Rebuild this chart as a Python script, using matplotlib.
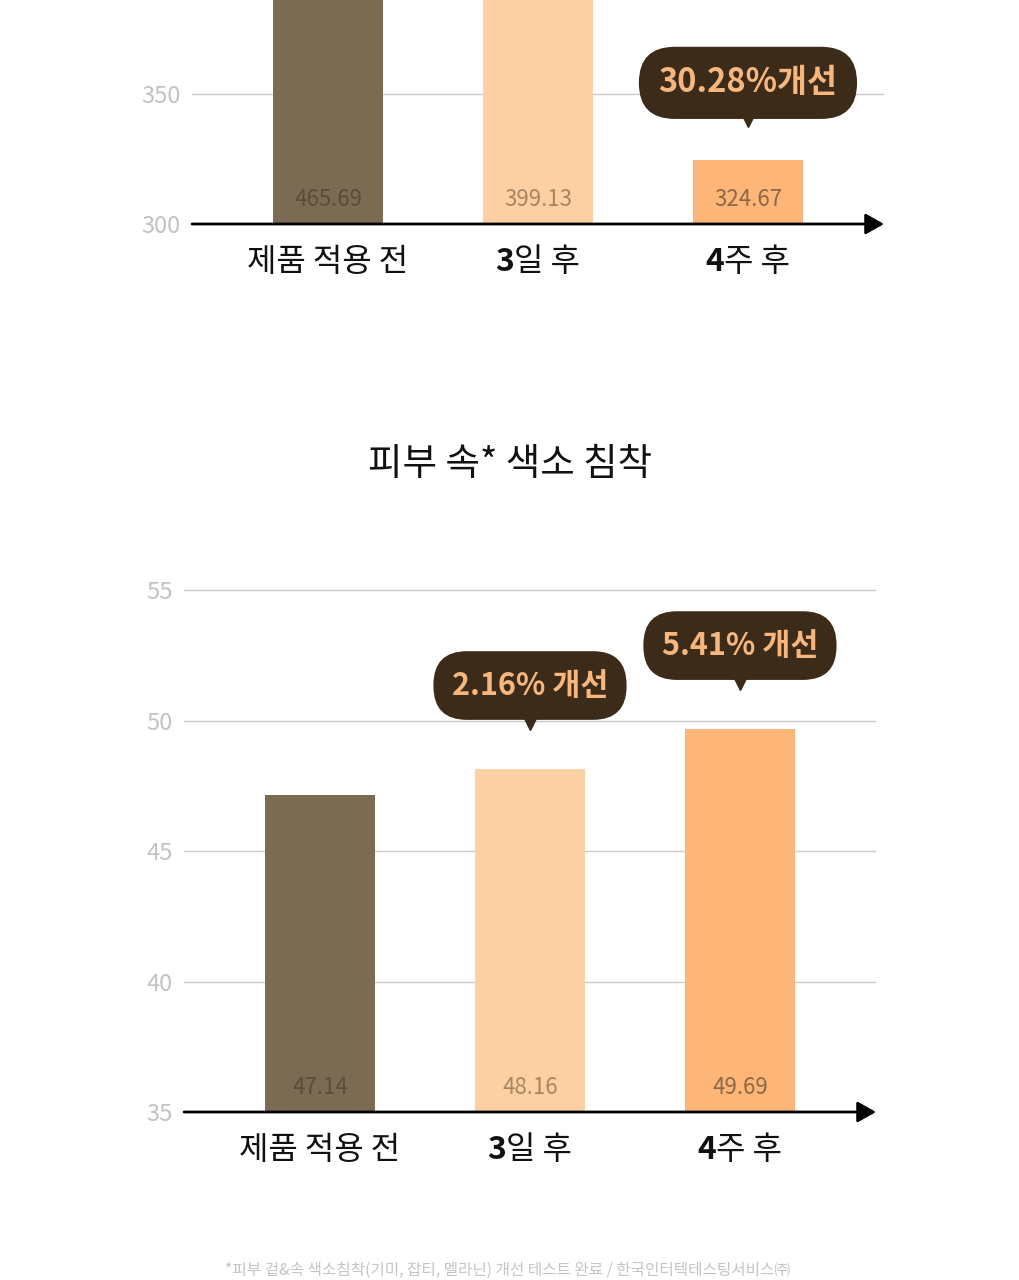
import re
import matplotlib
matplotlib.use("Agg")
import matplotlib.pyplot as plt
from matplotlib import transforms

plt.rcParams['font.family'] = ['Noto Sans CJK KR', 'DejaVu Sans']

# ---------------- data ----------------
categories = ["제품 적용 전", "3일 후", "4주 후"]
top_values = [465.69, 399.13, 324.67]
top_yticks = [300, 350, 400]
top_bubbles = {2: "30.28%개선"}

bottom_title = "피부 속* 색소 침착"
bottom_values = [47.14, 48.16, 49.69]
bottom_yticks = [35, 40, 45, 50, 55]
bottom_bubbles = {1: "2.16% 개선", 2: "5.41% 개선"}

footnote = "*피부 겉&속 색소침착(기미, 잡티, 멜라닌) 개선 테스트 완료 / 한국인터텍테스팅서비스㈜"

bar_colors = ["#7b6b52", "#fdd0a4", "#fdb578"]
value_colors = ["#5c4c36", "#a88561", "#8f6846"]
grid_color = "#c9c9c9"
tick_color = "#c2c2c2"
bubble_bg = "#3b2b18"
bubble_fg = "#f7b67d"

W, H = 1020, 1280
fig = plt.figure(figsize=(W / 100, H / 100), dpi=100)
fig.patch.set_facecolor("white")


def px_ax(left, right, top, bottom):
    return fig.add_axes([left / W, 1 - bottom / H, (right - left) / W, (bottom - top) / H])


def setup(ax, values, yticks, ylim, bubbles, bubble_fs, bubble_off, tip_off):
    xs = list(range(len(values)))
    ax.set_xlim(-0.648, 2.648)
    ax.set_ylim(*ylim)
    ax.bar(xs, values, width=0.524, color=bar_colors, zorder=2)
    for s in ax.spines.values():
        s.set_visible(False)
    ax.set_xticks([])
    ax.set_yticks([t for t in yticks if ylim[0] <= t <= ylim[1]])
    ax.tick_params(axis="y", length=0, pad=8, labelsize=17, labelcolor=tick_color)
    ax.yaxis.grid(True, color=grid_color, lw=1)
    ax.set_axisbelow(True)
    # axis arrow
    ax.annotate("", xy=(1, 0), xycoords="axes fraction", xytext=(0, 0),
                textcoords="axes fraction",
                arrowprops=dict(arrowstyle="-|>,head_length=0.8,head_width=0.45",
                                color="black", lw=2, shrinkA=0, shrinkB=0,
                                mutation_scale=14), zorder=5)
    # values inside bars
    for i, v in enumerate(values):
        tr = transforms.offset_copy(ax.get_xaxis_transform(), fig=fig, x=0, y=24, units="dots")
        ax.text(i, 0, f"{v:.2f}", transform=tr, ha="center", va="center",
                fontsize=16, color=value_colors[i], zorder=4)
    # bubbles
    for i, txt in bubbles.items():
        v = values[i]
        ax.annotate(txt, xy=(i, v), xytext=(0, bubble_off), textcoords="offset pixels",
                    ha="center", va="center", fontsize=bubble_fs, fontweight="bold",
                    color=bubble_fg, zorder=6, annotation_clip=False,
                    bbox=dict(boxstyle="round,pad=0.6,rounding_size=1.1",
                              fc=bubble_bg, ec="none"))
        tr = transforms.offset_copy(ax.transData, fig=fig, x=0, y=tip_off, units="dots")
        ax.plot([i], [v], marker="v", markersize=10, color=bubble_bg,
                transform=tr, zorder=6, clip_on=False)
    # category labels (bold leading digits)
    fig.canvas.draw()
    r = fig.canvas.get_renderer()
    for i, lab in enumerate(categories):
        digit, rest = re.match(r"^(\d*)(.*)$", lab).groups()
        base = ax.get_xaxis_transform()
        t_d = ax.text(i, 0, digit, fontsize=23, fontweight="bold", color="#111111",
                      ha="left", va="center", transform=base)
        t_r = ax.text(i, 0, rest, fontsize=23, color="#111111",
                      ha="left", va="center", transform=base)
        wd = t_d.get_window_extent(r).width if digit else 0
        wr = t_r.get_window_extent(r).width
        total = wd + wr
        t_d.set_transform(transforms.offset_copy(base, fig=fig, x=-total / 2, y=-38, units="dots"))
        t_r.set_transform(transforms.offset_copy(base, fig=fig, x=-total / 2 + wd, y=-38, units="dots"))


# top chart (cropped)
ax1 = px_ax(192, 884, 0, 224)
setup(ax1, top_values, top_yticks, (300, 300 + 224 / 2.6), top_bubbles, 23.5, 77, 40)

# bottom chart
ax2 = px_ax(184, 876, 1112 - 22 * 26.1, 1112)
setup(ax2, bottom_values, bottom_yticks, (35, 57), bottom_bubbles, 22, 83, 46)

fig.text(510 / W, 1 - 464 / H, bottom_title, ha="center", va="center",
         fontsize=27, color="#111111")
fig.text(508 / W, 1 - 1270 / H, footnote, ha="center", va="center",
         fontsize=11.3, color="#c4c4c4")

fig.savefig("out.png", dpi=100, facecolor="white")
